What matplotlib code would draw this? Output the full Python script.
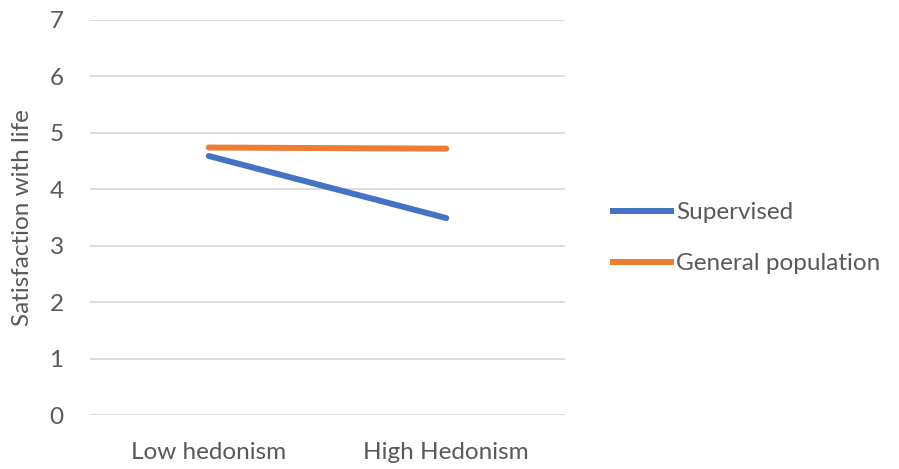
import matplotlib
matplotlib.use("Agg")
import matplotlib.pyplot as plt
from matplotlib.lines import Line2D

categories = ["Low hedonism", "High Hedonism"]
supervised = [4.59, 3.49]
general_population = [4.74, 4.72]
series_names = ["Supervised", "General population"]
y_ticks = [0, 1, 2, 3, 4, 5, 6, 7]

plt.rcParams["font.family"] = ["Lato", "DejaVu Sans"]
text_color = "#595959"
colors = ["#4472C4", "#ED7D31"]
fs = 17.5

fig = plt.figure(figsize=(8.99, 4.69), dpi=100)
ax = fig.add_axes([0.1001, 0.1151, 0.5284, 0.8423])

x = list(range(len(categories)))
for vals, c in zip([supervised, general_population], colors):
    ax.plot(x, vals, color=c, lw=4.3, solid_capstyle="round")

ax.set_xlim(-0.5, len(categories) - 0.5)
ax.set_ylim(0, 7)
ax.set_yticks(y_ticks)
ax.set_xticks(x)
ax.set_xticklabels(categories)
ax.grid(axis="y", color="#D9D9D9", lw=1.3)
ax.set_axisbelow(True)
for s in ax.spines.values():
    s.set_visible(False)
ax.tick_params(axis="both", length=0, labelsize=fs, colors=text_color)
ax.tick_params(axis="x", pad=19.5)
ax.tick_params(axis="y", pad=19)
ax.set_ylabel("Satisfaction with life", fontsize=fs, color=text_color)
ax.yaxis.set_label_coords(-0.12, 0.5)

handles = [Line2D([], [], color=c, lw=4.3) for c in colors]
fig.legend(handles, series_names, loc="center left", bbox_to_anchor=(0.6575, 0.492),
           frameon=False, fontsize=fs, labelcolor=text_color, handlelength=2.4,
           handletextpad=0.2, labelspacing=1.23)

fig.savefig("out.png", dpi=100)
